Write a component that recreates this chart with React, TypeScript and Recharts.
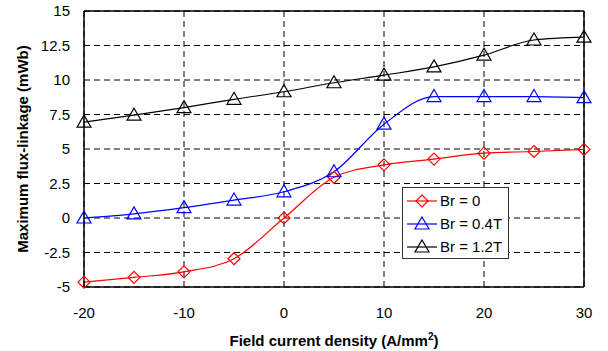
import { LineChart, Line, XAxis, YAxis, CartesianGrid, ReferenceLine } from 'recharts'

const currentDensity = [-20, -15, -10, -5, 0, 5, 10, 15, 20, 25, 30]
const br0 = [-4.65, -4.3, -3.9, -2.95, 0, 2.95, 3.85, 4.27, 4.7, 4.82, 4.97]
const br04 = [0.0, 0.3, 0.75, 1.3, 1.9, 3.35, 6.8, 8.8, 8.8, 8.8, 8.72]
const br12 = [6.95, 7.45, 8.0, 8.6, 9.15, 9.8, 10.35, 10.95, 11.8, 12.9, 13.1]
const xTicks = [-20, -10, 0, 10, 20, 30]
const yTicks = [-5, -2.5, 0, 2.5, 5, 7.5, 10, 12.5, 15]

const series = [
  { key: 'br0', name: 'Br = 0', color: '#ff0000', shape: 'diamond' },
  { key: 'br04', name: 'Br = 0.4T', color: '#0000ff', shape: 'triangle' },
  { key: 'br12', name: 'Br = 1.2T', color: '#000000', shape: 'triangle' },
]

const data = currentDensity.map((x, i) => ({ x, br0: br0[i], br04: br04[i], br12: br12[i] }))

const FONT = '"Liberation Sans", Arial, sans-serif'

function Marker({ cx, cy, color, shape }: { cx: number; cy: number; color: string; shape: string }) {
  if (cx == null || cy == null) return null
  const pts =
    shape === 'diamond'
      ? `${cx},${cy - 6} ${cx + 6},${cy} ${cx},${cy + 6} ${cx - 6},${cy}`
      : `${cx},${cy - 7} ${cx + 7},${cy + 5} ${cx - 7},${cy + 5}`
  return <polygon points={pts} fill="none" stroke={color} strokeWidth={1.2} />
}

function LegendBox() {
  return (
    <div
      style={{
        position: 'absolute',
        left: 402,
        top: 187,
        width: 105,
        height: 69,
        border: '1.5px solid #333',
        background: '#fff',
        fontFamily: FONT,
        fontSize: 15,
        paddingTop: 1,
        boxSizing: 'content-box',
      }}
    >
      {series.map((s) => (
        <div key={s.key} style={{ display: 'flex', alignItems: 'center', height: 23 }}>
          <svg width={36} height={20}>
            <line x1={4} y1={10} x2={34} y2={10} stroke={s.color} strokeWidth={1.2} />
            <Marker cx={19} cy={10} color={s.color} shape={s.shape} />
          </svg>
          <span style={{ color: '#000', marginLeft: 1 }}>{s.name}</span>
        </div>
      ))}
    </div>
  )
}

function XTitle({ viewBox }: any) {
  const cx = viewBox.x + viewBox.width / 2
  return (
    <text x={cx} y={346} textAnchor="middle" fontFamily={FONT} fontWeight="bold" fontSize={15} fill="#000">
      Field current density (A/mm
      <tspan dy={-6} fontSize={10}>2</tspan>
      <tspan dy={6}>)</tspan>
    </text>
  )
}

function YTitle({ viewBox }: any) {
  const cy = viewBox.y + viewBox.height / 2
  return (
    <text
      x={22}
      y={cy}
      transform={`rotate(-90 22 ${cy})`}
      textAnchor="middle"
      dominantBaseline="central"
      fontFamily={FONT}
      fontWeight="bold"
      fontSize={15}
      fill="#000"
    >
      Maximum flux-linkage (mWb)
    </text>
  )
}

export default function App() {
  return (
    <div style={{ position: 'absolute', left: 0, top: 0, width: 608, height: 351, background: '#fff' }}>
      <LineChart width={608} height={351} data={data} margin={{ top: 11, right: 24, bottom: 0, left: 0 }}>
        <CartesianGrid stroke="#000" strokeDasharray="6 4" strokeWidth={1} />
        <XAxis
          type="number"
          dataKey="x"
          domain={[-20, 30]}
          ticks={xTicks}
          interval={0}
          height={64}
          tickLine={false}
          tickMargin={14}
          stroke="#000"
          strokeWidth={1.5}
          tick={{ fill: '#000', fontFamily: FONT, fontSize: 15 }}
          label={<XTitle />}
        />
        <YAxis
          type="number"
          domain={[-5, 15]}
          ticks={yTicks}
          interval={0}
          width={84}
          tickLine={false}
          tickMargin={8}
          stroke="#000"
          strokeWidth={1.5}
          tick={{ fill: '#000', fontFamily: FONT, fontSize: 15 }}
          label={<YTitle />}
        />
        <ReferenceLine y={15} stroke="#000" strokeWidth={1.5} />
        <ReferenceLine x={30} stroke="#000" strokeWidth={1.5} />
        {series.map((s) => (
          <Line
            key={s.key}
            type="monotone"
            dataKey={s.key}
            name={s.name}
            stroke={s.color}
            strokeWidth={1.2}
            isAnimationActive={false}
            dot={(p: any) => <Marker key={`${s.key}-${p.index}`} cx={p.cx} cy={p.cy} color={s.color} shape={s.shape} />}
            activeDot={false}
          />
        ))}
      </LineChart>
      <LegendBox />
    </div>
  )
}
